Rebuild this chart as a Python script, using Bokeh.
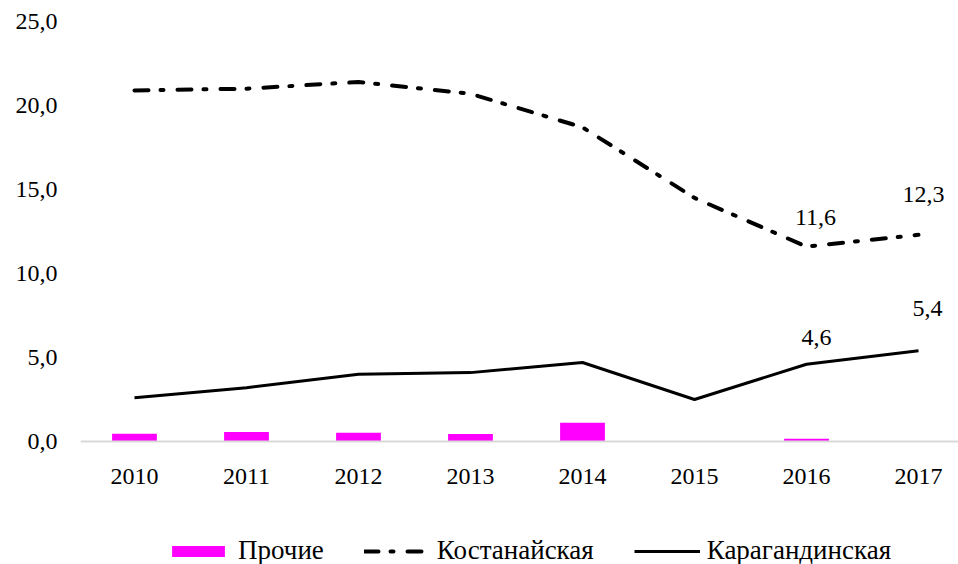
from bokeh.plotting import figure
from bokeh.models import (ColumnDataSource, FixedTicker, CustomJSTickFormatter, Range1d,
                          Legend, LegendItem)
from bokeh.core.properties import value
from bokeh.embed import file_html
from bokeh.resources import INLINE

# ---- data ----
years = ["2010", "2011", "2012", "2013", "2014", "2015", "2016", "2017"]
prochie = [0.46, 0.56, 0.52, 0.44, 1.11, 0.0, 0.16, 0.0]
kostanay = [20.9, 21.0, 21.4, 20.7, 18.7, 14.5, 11.6, 12.3]
karaganda = [2.6, 3.2, 4.0, 4.1, 4.7, 2.5, 4.6, 5.4]
y_ticks = [0, 5, 10, 15, 20, 25]
labelled_years = ["2016", "2017"]

FONT = "Liberation Serif"
xs = list(range(len(years)))

# frame: 420 px for 0..25 (16.8 px per unit), extended 123 px below zero for axis labels + legend
p = figure(frame_width=878, frame_height=543, output_backend="svg", toolbar_location=None,
           x_range=Range1d(-0.482, 7.357), y_range=Range1d(-123 / 16.8, 25),
           min_border_left=80, min_border_right=0, min_border_top=21,
           min_border_bottom=0)
p.outline_line_color = None
p.grid.visible = False
p.background_fill_color = "white"
p.border_fill_color = "white"

src = ColumnDataSource(dict(x=xs, prochie=prochie, kostanay=kostanay, karaganda=karaganda))

bars = p.vbar(x="x", top="prochie", bottom=0, width=0.4, source=src,
              fill_color="#FF00FF", line_color=None)
kost = p.line(x="x", y="kostanay", source=src, line_color="black", line_width=4,
              line_dash="14 12 3 14", line_cap="round")
kar = p.line(x="x", y="karaganda", source=src, line_color="black", line_width=3)

# data labels for the last two years
idx = [years.index(y) for y in labelled_years]
def fmt(v):
    return f"{v:.1f}".replace(".", ",")
lab_kost = ColumnDataSource(dict(x=[xs[i] for i in idx], y=[kostanay[i] for i in idx],
                                 t=[fmt(kostanay[i]) for i in idx],
                                 dx=[9, 5], dy=[-29, -40]))
lab_kar = ColumnDataSource(dict(x=[xs[i] for i in idx], y=[karaganda[i] for i in idx],
                                t=[fmt(karaganda[i]) for i in idx],
                                dx=[10, 9], dy=[-27, -42]))
for s in (lab_kost, lab_kar):
    p.text(x="x", y="y", text="t", source=s, x_offset="dx", y_offset="dy",
           text_font=value(FONT), text_font_size="24px", text_color="black",
           text_align="center", text_baseline="middle")

# axes
p.yaxis.ticker = FixedTicker(ticks=y_ticks)
p.yaxis.formatter = CustomJSTickFormatter(code="return tick.toFixed(1).replace('.', ',');")
p.yaxis.axis_line_color = None
p.yaxis.major_tick_line_color = None
p.yaxis.minor_tick_line_color = None
p.yaxis.major_tick_out = 0
p.yaxis.major_tick_in = 0
p.yaxis.major_label_standoff = 23
p.yaxis.major_label_text_font = FONT
p.yaxis.major_label_text_font_size = "24px"
p.yaxis.major_label_text_color = "black"

p.xaxis.fixed_location = 0
p.xaxis.ticker = FixedTicker(ticks=xs)
p.xaxis.major_label_overrides = {i: y for i, y in zip(xs, years)}
p.xaxis.axis_line_color = "#d9d9d9"
p.xaxis.axis_line_width = 2
p.xaxis.major_tick_line_color = None
p.xaxis.minor_tick_line_color = None
p.xaxis.major_tick_out = 0
p.xaxis.major_tick_in = 0
p.xaxis.major_label_standoff = 27
p.xaxis.major_label_text_font = FONT
p.xaxis.major_label_text_font_size = "24px"
p.xaxis.major_label_text_color = "black"

legend = Legend(items=[LegendItem(label="Прочие", renderers=[bars]),
                       LegendItem(label="Костанайская", renderers=[kost]),
                       LegendItem(label="Карагандинская", renderers=[kar])],
                orientation="horizontal", location=(85, -2))
legend.label_text_font = FONT
legend.label_text_font_size = "27px"
legend.label_text_color = "black"
legend.border_line_color = None
legend.background_fill_alpha = 0
legend.glyph_width = 66
legend.glyph_height = 14
legend.label_standoff = 7
legend.spacing = 40
legend.padding = 0
legend.margin = 0
p.add_layout(legend, "center")

open("out.html", "w").write(file_html(p, INLINE))
